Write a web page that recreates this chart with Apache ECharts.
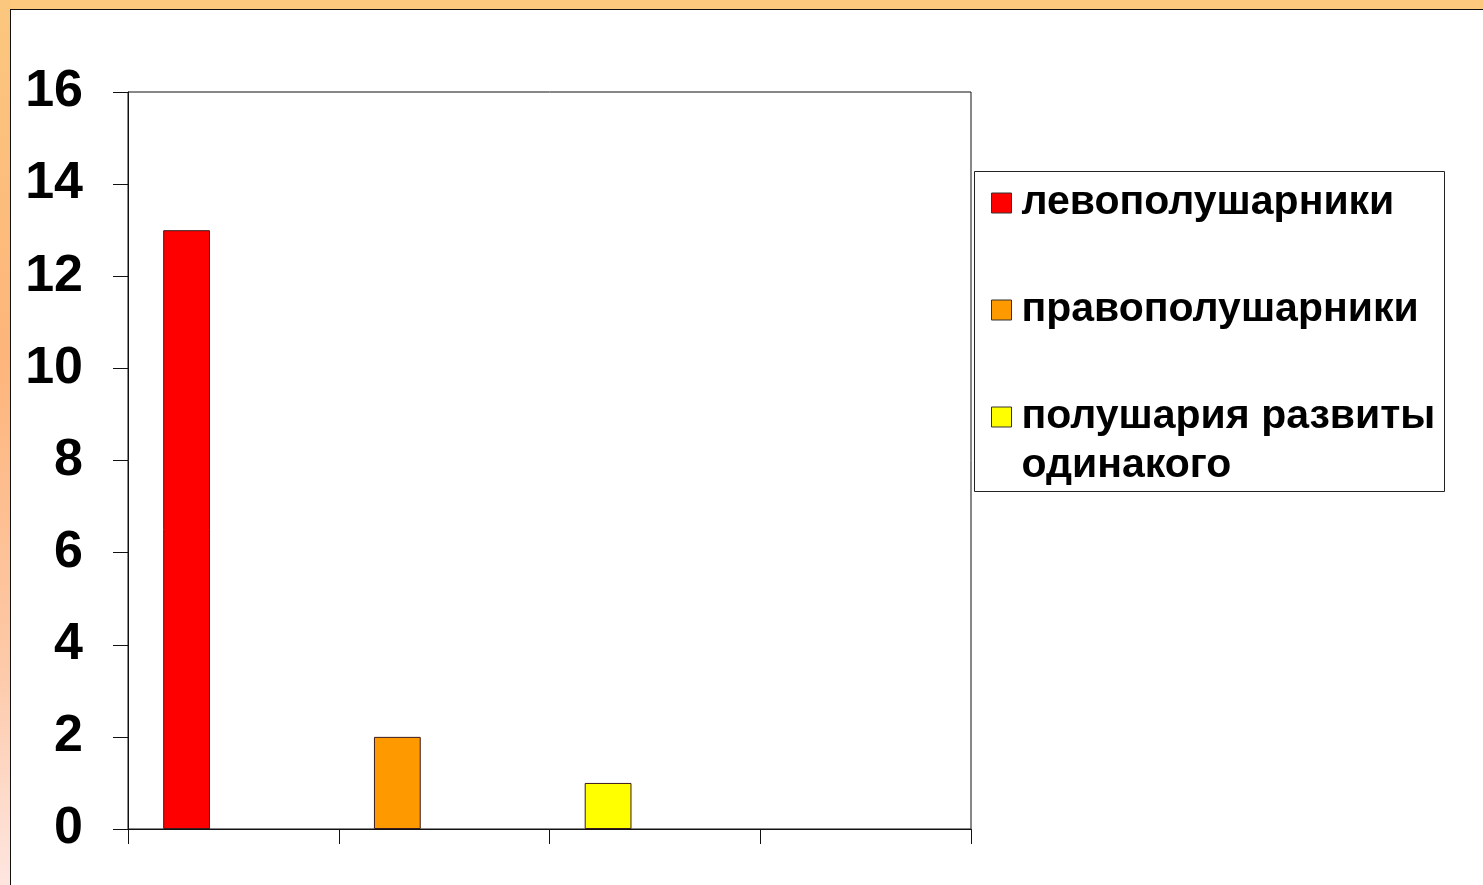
<!DOCTYPE html>
<html>
<head>
<meta charset="utf-8">
<script src="https://cdn.jsdelivr.net/npm/echarts@6/dist/echarts.min.js"></script>
<style>
  html, body { margin: 0; padding: 0; width: 1483px; height: 885px; overflow: hidden; background: #ffffff; }
  #topband { position: absolute; left: 0; top: 0; width: 1483px; height: 9px; background: #FCC97F; }
  #leftband { position: absolute; left: 0; top: 0; width: 10px; height: 885px;
    background: linear-gradient(to bottom, #FBC77E 0%, #FDB57A 40%, #FDC9A8 75%, #FEE6E0 100%); }
  #frame { position: absolute; left: 10px; top: 9px; width: 1473px; height: 876px;
    border-left: 1.5px solid #111; border-top: 1.5px solid #111; background: #fff; box-sizing: border-box; }
  #chart { position: absolute; left: 0; top: 0; width: 1483px; height: 885px; }
</style>
</head>
<body>
<div id="topband"></div>
<div id="leftband"></div>
<div id="frame"></div>
<div id="chart"></div>
<script>
// ---- data ----
const categories = ['1', '2', '3', '4'];
const seriesNames = ['левополушарники', 'правополушарники', 'полушария развиты одинакого'];
const legendLabels = ['левополушарники', 'правополушарники', 'полушария развиты\nодинакого'];
const seriesValues = [13, 2, 1];          // each series has its value in its own category
const seriesColors = ['#FF0000', '#FF9900', '#FFFF00'];
const yMin = 0, yMax = 16, yInterval = 2;

const chart = echarts.init(document.getElementById('chart'), null, { renderer: 'canvas' });

const series = seriesNames.map(function (name, i) {
  const data = categories.map(function (c, j) { return j === i ? seriesValues[i] : '-'; });
  return {
    name: name,
    type: 'bar',
    stack: 'main',
    data: data,
    itemStyle: { color: seriesColors[i], borderColor: '#3a1a1a', borderWidth: 1 },
    barGap: 0,
    barCategoryGap: '33.4%',
    emphasis: { disabled: true },
    silent: true
  };
});
// two empty slots so that bars sit in the first of three slots per category (Excel layout)
series.push({ name: '_e1', type: 'bar', stack: 'e1', data: [], barGap: 0, barCategoryGap: '33.4%' });
series.push({ name: '_e2', type: 'bar', stack: 'e2', data: [], barGap: 0, barCategoryGap: '33.4%' });

const legendFont = 41;
const legendLine = 49;

const option = {
  animation: false,
  backgroundColor: 'transparent',
  grid: { left: 128, top: 92, right: 512, bottom: 56, show: true, borderColor: '#111', borderWidth: 1, backgroundColor: '#fff' },
  xAxis: {
    type: 'category',
    data: categories,
    axisLine: { show: true, lineStyle: { color: '#111', width: 1 } },
    axisTick: { show: true, length: 15, lineStyle: { color: '#111', width: 1 } },
    axisLabel: { show: false },
    splitLine: { show: false }
  },
  yAxis: {
    type: 'value',
    min: yMin, max: yMax, interval: yInterval,
    axisLine: { show: true, lineStyle: { color: '#111', width: 1 } },
    axisTick: { show: true, length: 15, lineStyle: { color: '#111', width: 1 } },
    axisLabel: { show: true, margin: 45, color: '#000', fontFamily: 'Liberation Sans, Arial, sans-serif', fontWeight: 'bold', fontSize: 52 },
    splitLine: { show: false }
  },
  legend: {
    orient: 'vertical',
    left: 991,
    top: 203 - 73.5,
    padding: 0,
    itemGap: 107 - 3 * legendLine,
    itemWidth: 20,
    itemHeight: 20,
    icon: 'rect',
    selectedMode: false,
    itemStyle: { borderColor: '#333', borderWidth: 1 },
    data: seriesNames,
    formatter: function (name) {
      const i = seriesNames.indexOf(name);
      const label = legendLabels[i];
      // pad with blank lines so the first text line sits level with the icon
      return label.indexOf('\n') >= 0 ? ' \n' + label : ' \n' + label + '\n ';
    },
    textStyle: { color: '#000', fontFamily: 'Liberation Sans, Arial, sans-serif', fontWeight: 'bold', fontSize: legendFont, lineHeight: legendLine, padding: [0, 0, 0, 5] }
  },
  graphic: [{
    type: 'rect',
    silent: true,
    z: -1,
    shape: { x: 974.5, y: 171.5, width: 470, height: 320 },
    style: { fill: '#fff', stroke: '#222', lineWidth: 1 }
  }],
  series: series
};
chart.setOption(option);
</script>
</body>
</html>
